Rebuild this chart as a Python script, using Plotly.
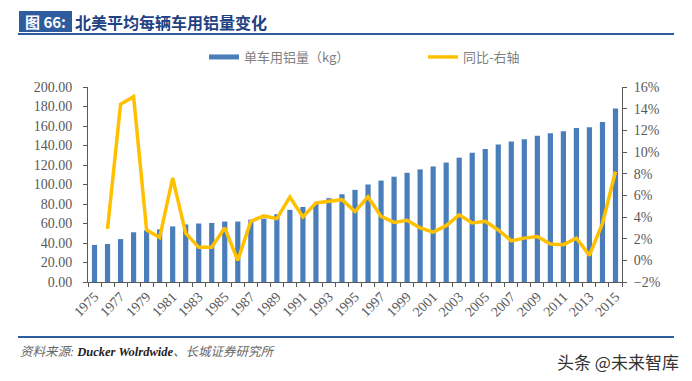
import plotly.graph_objects as go

years = list(range(1975, 2016))
aluminum_kg = [38, 39, 44, 51, 53, 54, 57, 59, 60, 60.5, 62, 62, 64, 65, 69.5, 74, 77, 80,
               86, 90, 94.5, 100, 104, 108, 112, 115.5, 118.5, 122.5, 127.5, 132.5, 136.5,
               141, 144, 146.5, 150, 152.5, 154.5, 158, 158.7, 164, 178]
yoy = [None, 0.029, 0.144, 0.151, 0.028, 0.021, 0.076, 0.025, 0.012, 0.012, 0.030, 0.000,
       0.036, 0.041, 0.0385, 0.0585, 0.040, 0.053, 0.0545, 0.056, 0.045, 0.0585, 0.0405,
       0.035, 0.037, 0.030, 0.026, 0.032, 0.042, 0.0345, 0.036, 0.028, 0.018, 0.0205,
       0.022, 0.015, 0.0145, 0.0205, 0.0046, 0.034, 0.082]
xtick_years = list(range(1975, 2016, 2))

BAR_C = "#4A7EBB"
LINE_C = "#FFC000"
GRID_TXT = "#595959"
BLUE = "#2E5C9E"

W, H = 692, 381
L, R, T, B = 88, 622, 87, 282


def px(x):
    return (x - L) / (R - L)


def py(y):
    return (B - y) / (B - T)


fig = go.Figure()
fig.add_trace(go.Bar(x=years, y=aluminum_kg, marker_color=BAR_C, marker_line_width=0,
                     name="单车用铝量（kg）", showlegend=False, legendgroup="a"))
fig.add_trace(go.Scatter(x=[None], y=[None], mode="lines", line=dict(color=BAR_C, width=5),
                         name="单车用铝量（kg）", legendgroup="a"))
fig.add_trace(go.Scatter(x=years, y=yoy, mode="lines", yaxis="y2",
                         line=dict(color=LINE_C, width=3.5), name="同比-右轴"))

serif = "Liberation Serif"
fig.update_layout(
    width=W, height=H,
    margin=dict(l=L, r=W - R, t=T, b=H - B, autoexpand=False),
    paper_bgcolor="white", plot_bgcolor="white",
    bargap=0.6,
    showlegend=True,
    legend=dict(orientation="h", x=px(204), y=py(57), xanchor="left", yanchor="middle",
                font=dict(family="Noto Sans CJK SC", size=13, color="#7F7F7F"),
                entrywidth=174, entrywidthmode="pixels", itemwidth=30,
                bgcolor="rgba(0,0,0,0)", traceorder="normal"),
    xaxis=dict(range=[1974.5, 2015.5], tickvals=xtick_years, ticktext=[str(y) for y in xtick_years],
               tickangle=-45, ticks="", showgrid=False, zeroline=False, automargin=False,
               showline=True, linecolor="#595959", linewidth=1,
               tickfont=dict(family=serif, size=14, color=GRID_TXT),
               minor=dict(ticks="outside", tick0=1974.5, dtick=1, ticklen=4,
                          tickcolor="#595959", showgrid=False)),
    yaxis=dict(range=[0, 200], dtick=20, tickformat=".2f", showgrid=False, zeroline=False,
               showline=True, linecolor="#595959", linewidth=1, ticks="outside", automargin=False,
               ticklen=4, tickcolor="#595959", ticklabelstandoff=8,
               tickfont=dict(family=serif, size=14, color=GRID_TXT)),
    yaxis2=dict(range=[-0.02, 0.16], dtick=0.02, tickformat=".0%", overlaying="y", side="right",
                showgrid=False, zeroline=False, showline=True, linecolor="#595959", linewidth=1,
                ticks="outside", ticklen=4, tickcolor="#595959", ticklabelstandoff=4,
                automargin=False,
                tickfont=dict(family=serif, size=14, color=GRID_TXT)),
)

shapes = [
    dict(type="rect", xref="paper", yref="paper", x0=px(19), x1=px(72), y0=py(11), y1=py(32),
         fillcolor=BLUE, line_width=0, layer="above"),
    dict(type="line", xref="paper", yref="paper", x0=px(18), x1=px(674), y0=py(34), y1=py(34),
         line=dict(color=BLUE, width=2)),
    dict(type="line", xref="paper", yref="paper", x0=px(18), x1=px(674), y0=py(337), y1=py(337),
         line=dict(color=BLUE, width=2)),
]
annotations = [
    dict(xref="paper", yref="paper", x=px(45.5), y=py(21.5), text="<b>图 66:</b>", showarrow=False,
         xanchor="center", yanchor="middle",
         font=dict(family="Noto Sans CJK SC", size=15, color="white")),
    dict(xref="paper", yref="paper", x=px(73), y=py(21.5), text="<b>北美平均每辆车用铝量变化</b>",
         showarrow=False, xanchor="left", yanchor="middle",
         font=dict(family="Noto Sans CJK SC", size=16, color="#1F4283")),
    dict(xref="paper", yref="paper", x=px(18), y=py(352),
         text="<i>资料来源: <b><span style='color:#222'>Ducker Wolrdwide</span></b>、长城证券研究所</i>",
         showarrow=False, xanchor="left", yanchor="middle",
         font=dict(family="Liberation Serif, Noto Sans CJK SC", size=12.5, color="#666666")),
    dict(xref="paper", yref="paper", x=px(681), y=py(361), text="头条 @未来智库",
         showarrow=False, xanchor="right", yanchor="middle",
         font=dict(family="Noto Sans CJK SC", size=17, color="#333333")),
]
fig.update_layout(shapes=shapes, annotations=annotations)

fig.write_html("out.html", config={"displayModeBar": False},
               post_script="document.body.style.margin='0';")
